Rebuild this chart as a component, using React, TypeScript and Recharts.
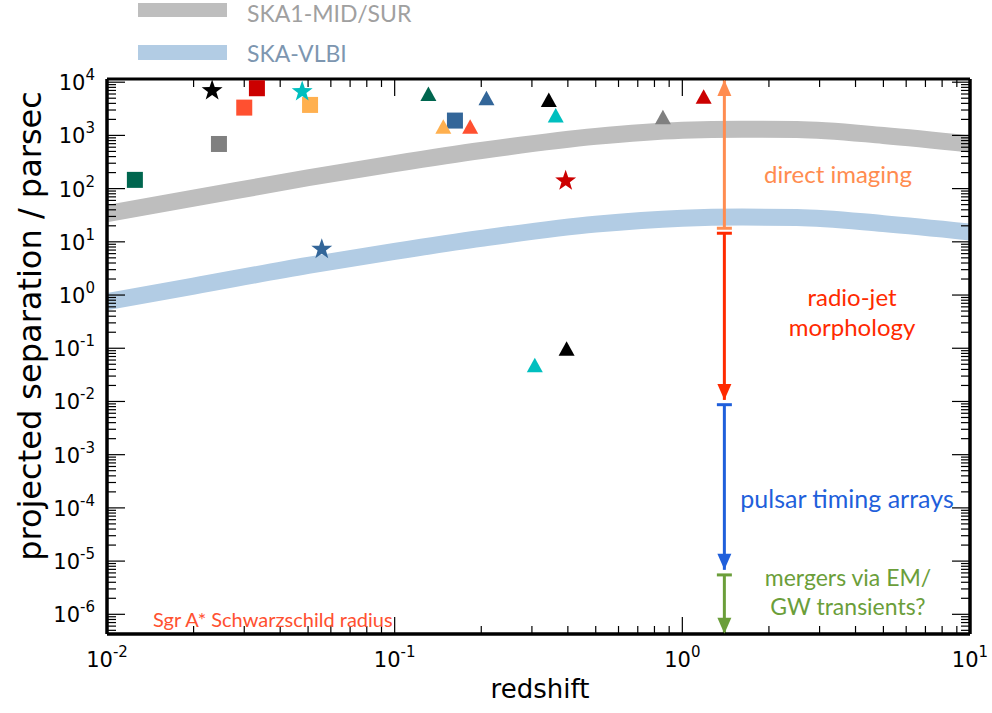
import React from "react";
import {
  ComposedChart,
  Line,
  Scatter,
  XAxis,
  YAxis,
  ReferenceLine,
  ReferenceDot,
} from "recharts";

// sensitivity curves (projected separation in pc vs redshift)
const curveZ = [0.01, 0.02, 0.05, 0.1, 0.2, 0.5, 1, 1.6, 2.5, 5, 10];
const skaMidSep = [34, 66, 160, 295, 520, 960, 1250, 1310, 1290, 1000, 690];
const skaVlbiSep = [0.75, 1.47, 3.6, 6.6, 11.6, 21.5, 27.8, 29.2, 28.7, 22, 15.3];

// binary / dual AGN candidates
const squares = [
  { id: "sq-dgreen", z: 0.0125, v: 146 },
  { id: "sq-gray", z: 0.0245, v: 690 },
  { id: "sq-orange", z: 0.03, v: 3330 },
  { id: "sq-red", z: 0.0332, v: 7700 },
  { id: "sq-yellow", z: 0.0508, v: 3740 },
  { id: "sq-blue", z: 0.162, v: 1900 },
];
const triangles = [
  { id: "tr-dgreen", z: 0.131, v: 6030 },
  { id: "tr-yellow", z: 0.1476, v: 1460 },
  { id: "tr-orange", z: 0.183, v: 1460 },
  { id: "tr-blue", z: 0.2085, v: 5000 },
  { id: "tr-cyan2", z: 0.307, v: 0.048 },
  { id: "tr-black", z: 0.3434, v: 4650 },
  { id: "tr-cyan", z: 0.363, v: 2360 },
  { id: "tr-black2", z: 0.396, v: 0.098 },
  { id: "tr-gray", z: 0.856, v: 2200 },
  { id: "tr-red", z: 1.186, v: 5300 },
];
const stars = [
  { id: "st-black", z: 0.0232, v: 6950 },
  { id: "st-cyan", z: 0.0477, v: 6660 },
  { id: "st-blue", z: 0.0558, v: 7.26 },
  { id: "st-red", z: 0.393, v: 140 },
];

// technique ranges drawn as vertical arrows at one redshift
const arrowZ = 1.4;
const rangeNames = ["direct", "jet", "pta", "merger"];
const rangeFrom = [18, 14.5, 0.0087, 5.5e-6];
const rangeTo = [1.1e4, 0.0107, 6.85e-6, 4.3e-7];

const xDomain = [0.01, 10];
const yDomain = [Math.pow(10, -6.37), Math.pow(10, 4.06)];
const xDecades = [0.01, 0.1, 1];
const yDecades = [1e-7, 1e-6, 1e-5, 1e-4, 1e-3, 1e-2, 1e-1, 1, 10, 100, 1e3, 1e4];
const mults = [1, 2, 3, 4, 5, 6, 7, 8, 9];

const markerColor: Record<string, string> = {
  dgreen: "#00664f",
  gray: "#808080",
  orange: "#ff5030",
  red: "#cc0000",
  yellow: "#ffb04f",
  blue: "#336699",
  cyan: "#00bfbf",
  cyan2: "#00bfbf",
  black: "#000000",
  black2: "#000000",
};
const rangeColor: Record<string, string> = {
  direct: "#ff8c50",
  jet: "#ff2a00",
  pta: "#1f5fdb",
  merger: "#6b9e3a",
};

const xTicks = [...xDecades.flatMap((d) => mults.map((m) => d * m)), 10];
const yTicks = yDecades
  .flatMap((d) => mults.map((m) => d * m))
  .filter((t) => t >= yDomain[0] && t <= yDomain[1]);

const midData = curveZ.map((z, i) => ({ z, v: skaMidSep[i] }));
const vlbiData = curveZ.map((z, i) => ({ z, v: skaVlbiSep[i] }));

const isMajor = (v: number) => {
  const l = Math.log10(v);
  return Math.abs(l - Math.round(l)) < 1e-6;
};
const colorOf = (p: any) => markerColor[String(p?.payload?.id ?? "").split("-")[1]] || "#000";

const TICK = "#000";
const FONT = "DejaVu Sans, sans-serif";
const GILL = "Lato, sans-serif";

function Pow({ v, x, y, anchor }: { v: number; x: number; y: number; anchor: string }) {
  return (
    <text x={x} y={y} textAnchor={anchor} fontFamily={FONT} fontSize={21} fill="#000">
      10
      <tspan dy={-10} fontSize={15}>
        {Math.round(Math.log10(v))}
      </tspan>
    </text>
  );
}

function BottomTick(props: any) {
  const { x, y, payload } = props;
  const major = isMajor(payload.value);
  return (
    <g>
      <line x1={x} x2={x} y1={y} y2={y - (major ? 17 : 8)} stroke={TICK} strokeWidth={1.2} />
      {major && <Pow v={payload.value} x={x} y={y + 33} anchor="middle" />}
    </g>
  );
}
function TopTick(props: any) {
  const { x, y, payload } = props;
  const major = isMajor(payload.value);
  return <line x1={x} x2={x} y1={y} y2={y + (major ? 17 : 8)} stroke={TICK} strokeWidth={1.2} />;
}
function LeftTick(props: any) {
  const { x, y, payload } = props;
  const major = isMajor(payload.value);
  return (
    <g>
      <line x1={x} x2={x + (major ? 18 : 9)} y1={y} y2={y} stroke={TICK} strokeWidth={1.2} />
      {major && <Pow v={payload.value} x={x - 12} y={y + 8} anchor="end" />}
    </g>
  );
}
function RightTick(props: any) {
  const { x, y, payload } = props;
  const major = isMajor(payload.value);
  return <line x1={x} x2={x - (major ? 18 : 9)} y1={y} y2={y} stroke={TICK} strokeWidth={1.2} />;
}

const squareShape = (p: any) => (
  <rect x={p.cx - 8} y={p.cy - 8} width={16} height={16} fill={colorOf(p)} />
);
const triangleShape = (p: any) => (
  <polygon
    points={`${p.cx},${p.cy - 7.5} ${p.cx - 8},${p.cy + 7} ${p.cx + 8},${p.cy + 7}`}
    fill={colorOf(p)}
  />
);
const starShape = (p: any) => {
  const pts: string[] = [];
  for (let k = 0; k < 10; k++) {
    const r = k % 2 === 0 ? 11 : 4.4;
    const a = -Math.PI / 2 + (k * Math.PI) / 5;
    pts.push(`${p.cx + r * Math.cos(a)},${p.cy + r * Math.sin(a)}`);
  }
  return <polygon points={pts.join(" ")} fill={colorOf(p)} />;
};

const capShape = (color: string) => (p: any) => (
  <line x1={p.cx - 7.5} x2={p.cx + 7.5} y1={p.cy} y2={p.cy} stroke={color} strokeWidth={3} />
);
const headShape = (color: string, up: boolean) => (p: any) => {
  const s = up ? 1 : -1;
  return (
    <polygon
      points={`${p.cx},${p.cy} ${p.cx - 7},${p.cy + s * 16} ${p.cx + 7},${p.cy + s * 16}`}
      fill={color}
    />
  );
};

const axisCommon = {
  type: "number" as const,
  scale: "log" as const,
  allowDataOverflow: true,
  interval: 0 as const,
  tickSize: 0,
  tickMargin: 0,
};

export default function App() {
  return (
    <div style={{ position: "absolute", left: 0, top: 0, width: 992, height: 713, background: "#fff" }}>
      <ComposedChart width={992} height={713} margin={{ top: 78, right: 21, bottom: 78, left: 106 }}>
        <XAxis
          {...axisCommon}
          dataKey="z"
          domain={xDomain}
          ticks={xTicks}
          height={1}
          tick={BottomTick}
          axisLine={{ stroke: "#000", strokeWidth: 3.5 }}
        />
        <XAxis
          {...axisCommon}
          xAxisId="top"
          orientation="top"
          dataKey="z"
          domain={xDomain}
          ticks={xTicks}
          height={1}
          tick={TopTick}
          axisLine={{ stroke: "#000", strokeWidth: 3 }}
        />
        <YAxis
          {...axisCommon}
          dataKey="v"
          domain={yDomain}
          ticks={yTicks}
          width={1}
          tick={LeftTick}
          axisLine={{ stroke: "#000", strokeWidth: 3.5 }}
        />
        <YAxis
          {...axisCommon}
          yAxisId="right"
          orientation="right"
          dataKey="v"
          domain={yDomain}
          ticks={yTicks}
          width={1}
          tick={RightTick}
          axisLine={{ stroke: "#000", strokeWidth: 3.5 }}
        />

        <Line data={midData} dataKey="v" type="monotone" stroke="#bebebe" strokeWidth={17} dot={false} isAnimationActive={false} />
        <Line data={vlbiData} dataKey="v" type="monotone" stroke="#b2cce4" strokeWidth={17} dot={false} isAnimationActive={false} />

        {rangeNames.map((n, i) => (
          <ReferenceLine
            key={"l" + n}
            segment={[
              { x: arrowZ, y: rangeFrom[i] },
              { x: arrowZ, y: rangeTo[i] },
            ]}
            stroke={rangeColor[n]}
            strokeWidth={3}
          />
        ))}
        {rangeNames.map((n, i) => (
          <ReferenceDot key={"c" + n} x={arrowZ} y={rangeFrom[i]} shape={capShape(rangeColor[n])} />
        ))}
        {rangeNames.map((n, i) => (
          <ReferenceDot
            key={"h" + n}
            x={arrowZ}
            y={rangeTo[i]}
            shape={headShape(rangeColor[n], rangeTo[i] > rangeFrom[i])}
          />
        ))}

        <Scatter data={squares} shape={squareShape} isAnimationActive={false} />
        <Scatter data={triangles} shape={triangleShape} isAnimationActive={false} />
        <Scatter data={stars} shape={starShape} isAnimationActive={false} />
      </ComposedChart>

      <svg
        width={992}
        height={713}
        style={{ position: "absolute", left: 0, top: 0, pointerEvents: "none" }}
      >
        {/* legend */}
        <rect x={138} y={3} width={89} height={14} fill="#bebebe" />
        <text x={247} y={22} fontFamily={GILL} fontSize={23} fill="#a0a0a0">
          SKA1-MID/SUR
        </text>
        <rect x={138} y={45} width={89} height={15} fill="#b2cce4" />
        <text x={247} y={62} fontFamily={GILL} fontSize={23} fill="#7d96b0">
          SKA-VLBI
        </text>

        {/* technique labels */}
        <text x={838} y={183} textAnchor="middle" fontFamily={GILL} fontSize={24} fill="#ff8c50">
          direct imaging
        </text>
        <text x={852} y={306} textAnchor="middle" fontFamily={GILL} fontSize={24} fill="#ff2a00">
          radio-jet
        </text>
        <text x={852} y={336} textAnchor="middle" fontFamily={GILL} fontSize={24} fill="#ff2a00">
          morphology
        </text>
        <text x={847} y={508} textAnchor="middle" fontFamily={GILL} fontSize={25} fill="#1f5fdb">
          pulsar timing arrays
        </text>
        <text x={848} y={586} textAnchor="middle" fontFamily={GILL} fontSize={23} fill="#6b9e3a">
          mergers via EM/
        </text>
        <text x={848} y={615} textAnchor="middle" fontFamily={GILL} fontSize={23} fill="#6b9e3a">
          GW transients?
        </text>
        <text x={153} y={627} fontFamily={GILL} fontSize={20} fill="#ff5030">
          Sgr A* Schwarzschild radius
        </text>

        {/* axis titles */}
        <text x={540} y={698} textAnchor="middle" fontFamily={FONT} fontSize={26} fill="#000">
          redshift
        </text>
        <text
          transform="rotate(-90)"
          x={-326}
          y={41}
          textAnchor="middle"
          fontFamily={FONT}
          fontSize={32}
          fill="#000"
        >
          projected separation / parsec
        </text>
      </svg>
    </div>
  );
}
